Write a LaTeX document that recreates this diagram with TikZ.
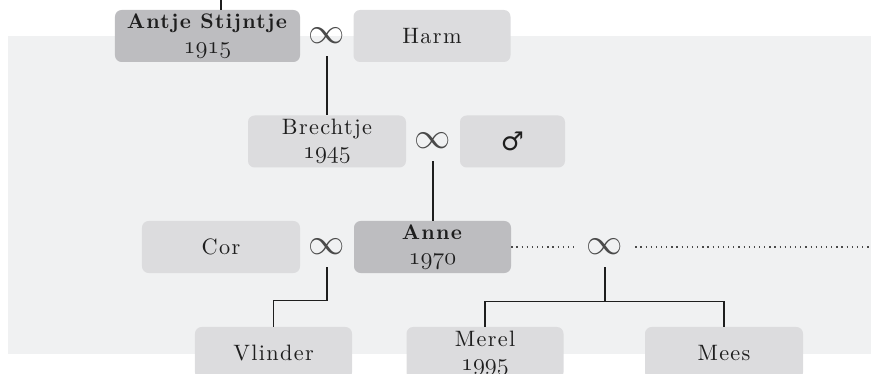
\documentclass[tikz,border=0pt]{standalone}
\usepackage{fontspec}
\setmainfont{lmroman10-regular.otf}[BoldFont = lmroman10-bold.otf, LetterSpace = 6]
\newfontfamily\signfont{DejaVu Sans}

\definecolor{panelgray}{HTML}{F0F1F2}
\definecolor{boxgray}{HTML}{DCDCDE}
\definecolor{keygray}{HTML}{BDBDC0}
\definecolor{inkgray}{HTML}{1E1E1E}
\definecolor{ringgray}{HTML}{4A4A4A}

% old style figures for the years
\newcommand{\yr}[1]{{\fontsize{21}{21}\usefont{OML}{cmm}{m}{it}#1}}
\newcommand{\wed}{\scalebox{3.1}{$\infty$}}

\tikzset{
	person/.style = {fill = boxgray,
					 rounded corners = 0.2cm,
					 minimum width = 4.71cm,
					 minimum height = 1.56cm,
					 inner sep = 0pt,
					 align = center,
					 text = inkgray,
					 font = \fontsize{19}{20.5}\selectfont},
	keyperson/.style = {person,
					 fill = keygray,
					 font = \fontsize{18}{20.5}\selectfont},
	ring/.style = {minimum width = 1.8cm,
				   minimum height = 1.2cm,
				   inner sep = 0pt,
				   text = ringgray},
	link/.style = {draw = inkgray, line width = 1pt},
	dotline/.style = {draw = ringgray, line width = 1.1pt,
					  dash pattern = on 1.1pt off 3.3pt}
}

\begin{document}
\begin{tikzpicture}[x = 0.03cm, y = -0.03cm]

	\useasboundingbox (0,0) rectangle (871,374);
	\clip (0,0) rectangle (871,374);

	\fill[panelgray] (8,36) rectangle (871,354);

	% first generation
	\draw (207.5,36) node[keyperson,
					 minimum width = 5.55cm] (Antje) {\textbf{Antje Stijntje}\\\yr{1915}};
	\draw (327,36) node[ring] (ringA) {\wed};
	\draw (432,36) node[person] (Harm) {Harm};

	% second generation
	\draw (327,141.5) node[person,
					 minimum width = 4.74cm] (Brechtje) {Brechtje\\\yr{1945}};
	\draw (433,141) node[ring] (ringB) {\wed};
	\draw (512.5,141.5) node[person,
					 minimum width = 3.15cm] (Man) {{\fontsize{22}{22}\signfont ♂}};

	% third generation
	\draw (221,247) node[person,
					 minimum width = 4.74cm] (Cor) {Cor};
	\draw (327,247) node[ring] (ringC) {\wed};
	\draw (432.5,247) node[keyperson] (Anne) {\textbf{Anne}\\\yr{1970}};
	\draw (605,247) node[ring] (ringD) {\wed};
	\coordinate (far) at (871,247);

	% fourth generation
	\draw (273.5,353) node[person] (Vlinder) {Vlinder};
	\draw (485,353) node[person] (Merel) {Merel\\\yr{1995}};
	\draw (724,353) node[person,
					 minimum width = 4.74cm] (Mees) {Mees};

	\coordinate (up) at (221,0);
	\draw[link] (up) -- (up |- Antje.north);
	\draw[link] (ringA.south) -- (Brechtje.north);
	\draw[link] (ringB.south) -- (ringB.south |- Anne.north);
	\draw[dotline] (Anne.east) -- (ringD.west);
	\draw[dotline] (ringD.east) -- (far);
	\draw[link] (ringC.south) -- ++(0,33) -| (Vlinder.north);
	\draw[link] (ringD.south) -- ++(0,34) coordinate (fork) -| (Merel.north);
	\draw[link] (fork) -| (Mees.north);
\end{tikzpicture}
\end{document}
